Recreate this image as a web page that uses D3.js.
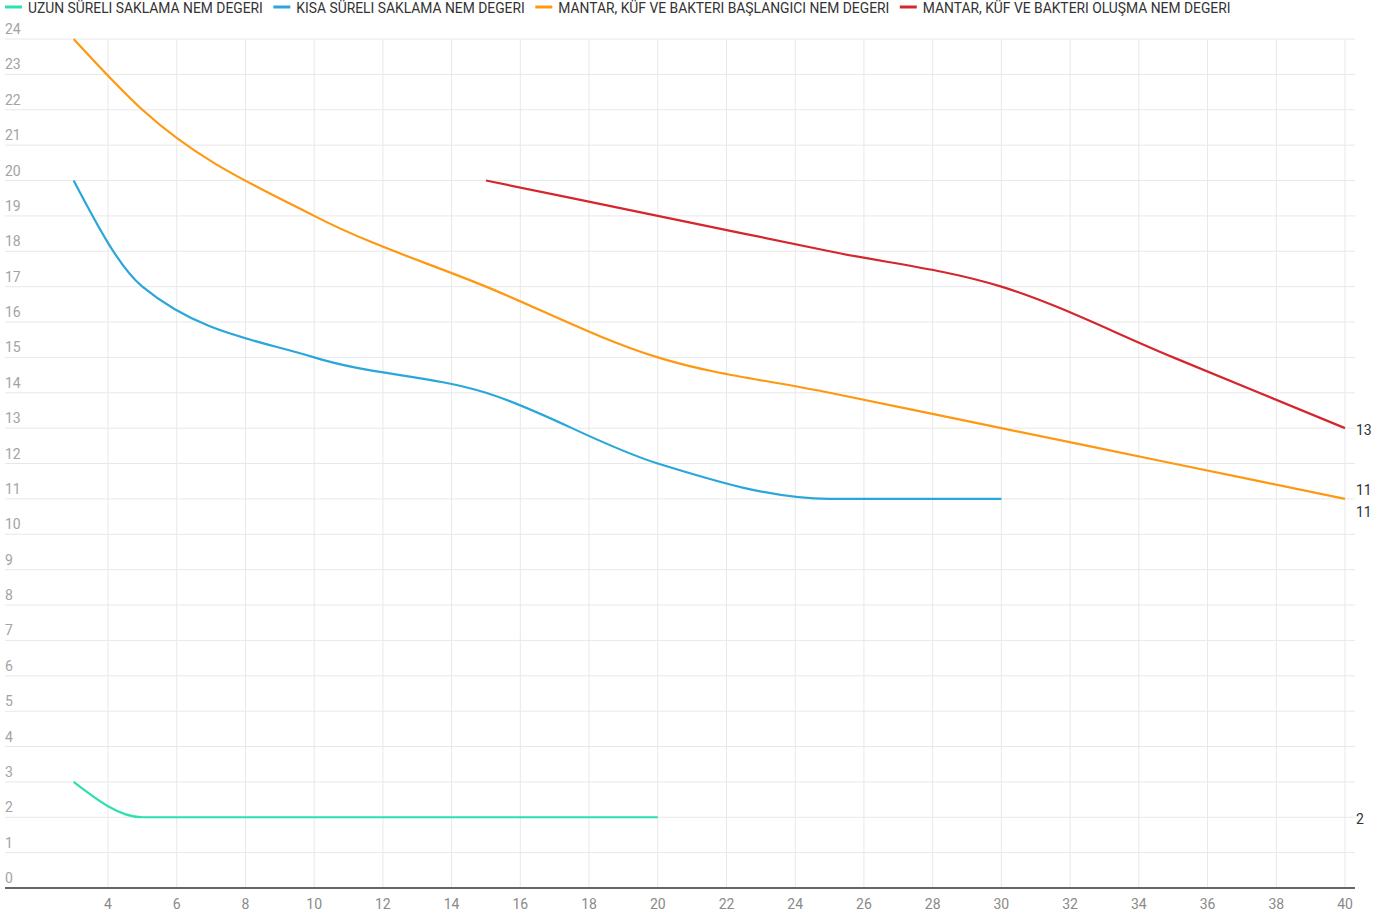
<!DOCTYPE html>
<html><head><meta charset="utf-8">
<script src="https://cdn.jsdelivr.net/npm/d3@7"></script>
<style>
html,body{margin:0;padding:0;background:#fff;}
svg{display:block;font-family:Roboto,"Noto Sans",sans-serif;}
</style></head>
<body>
<svg id="chart" width="1387" height="915"></svg>
<script>
const seriesNames = [
  "UZUN SÜRELI SAKLAMA NEM DEGERI",
  "KISA SÜRELI SAKLAMA NEM DEGERI",
  "MANTAR, KÜF VE BAKTERI BAŞLANGICI NEM DEGERI",
  "MANTAR, KÜF VE BAKTERI OLUŞMA NEM DEGERI"
];
const seriesColors = ["#2ee0ae", "#2aa7da", "#ff9811", "#d5262e"];
const uzunX = [3, 5, 10, 15, 20];
const uzunY = [3, 2, 2, 2, 2];
const kisaX = [3, 5, 10, 15, 20, 25, 30];
const kisaY = [20, 17, 15, 14, 12, 11, 11];
const baslangicX = [3, 5, 10, 15, 20, 25, 30, 35, 40];
const baslangicY = [24, 22, 19, 17, 15, 14, 13, 12, 11];
const olusmaX = [15, 20, 25, 30, 35, 40];
const olusmaY = [20, 19, 18, 17, 15, 13];
const xTicks = [4, 6, 8, 10, 12, 14, 16, 18, 20, 22, 24, 26, 28, 30, 32, 34, 36, 38, 40];
const yTicks = d3.range(0, 25);

const svg = d3.select("#chart");
const x = d3.scaleLinear().domain([4, 40]).range([108, 1345]);
const y = d3.scaleLinear().domain([0, 24]).range([888, 39]);
const left = 5, right = 1355;

// horizontal grid
svg.append("g").selectAll("line").data(yTicks.filter(d => d > 0)).join("line")
  .attr("x1", left).attr("x2", right)
  .attr("y1", d => y(d)).attr("y2", d => y(d))
  .attr("stroke", "#e8e8e8").attr("stroke-width", 1);
// vertical grid
svg.append("g").selectAll("line").data(xTicks).join("line")
  .attr("x1", d => x(d)).attr("x2", d => x(d))
  .attr("y1", y(24)).attr("y2", y(0))
  .attr("stroke", "#e8e8e8").attr("stroke-width", 1);

// y tick labels
svg.append("g").selectAll("text").data(yTicks).join("text")
  .attr("x", left).attr("y", d => y(d) - 5)
  .attr("font-size", 14).attr("fill", "#a3a3a3")
  .text(d => d);

// x axis line
svg.append("line").attr("x1", left).attr("x2", right)
  .attr("y1", y(0)).attr("y2", y(0))
  .attr("stroke", "#666").attr("stroke-width", 2);

// x tick labels
svg.append("g").selectAll("text").data(xTicks).join("text")
  .attr("x", d => x(d)).attr("y", 909)
  .attr("text-anchor", "middle")
  .attr("font-size", 14).attr("fill", "#8a8a8a")
  .text(d => d);

// lines
const series = [
  {xs: uzunX, ys: uzunY},
  {xs: kisaX, ys: kisaY},
  {xs: baslangicX, ys: baslangicY},
  {xs: olusmaX, ys: olusmaY}
];
const line = d3.line().x(d => x(d[0])).y(d => y(d[1])).curve(d3.curveMonotoneX);
series.forEach((s, i) => {
  const pts = s.xs.map((v, j) => [v, s.ys[j]]);
  svg.append("path").datum(pts)
    .attr("d", line)
    .attr("fill", "none")
    .attr("stroke", seriesColors[i])
    .attr("stroke-width", 2.2);
});

// end labels at right
const endLabelOffsets = [0, 11, -11, 0];
const endLabels = [3, 1, 2, 0].map(i => ({i, v: series[i].ys[series[i].ys.length - 1]}));
svg.append("g").selectAll("text").data(endLabels).join("text")
  .attr("x", 1356)
  .attr("y", d => y(d.v) + 7 + endLabelOffsets[d.i])
  .attr("font-size", 14).attr("fill", "#333")
  .text(d => d.v);

// legend
let lx = 5;
const lg = svg.append("g");
seriesNames.forEach((name, i) => {
  lg.append("line").attr("x1", lx).attr("x2", lx + 17)
    .attr("y1", 7).attr("y2", 7)
    .attr("stroke", seriesColors[i]).attr("stroke-width", 3);
  const t = lg.append("text").attr("x", lx + 23).attr("y", 12.5)
    .attr("font-size", 13.85).attr("fill", "#333").text(name);
  lx += 23 + t.node().getComputedTextLength() + 10.5;
});
</script>
</body></html>
